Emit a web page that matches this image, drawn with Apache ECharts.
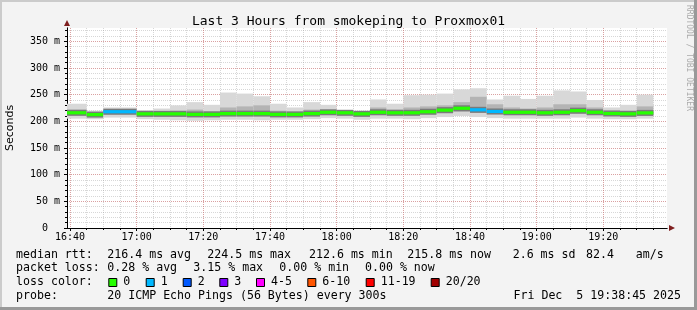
<!DOCTYPE html>
<html><head><meta charset="utf-8">
<script src="https://cdn.jsdelivr.net/npm/echarts@6/dist/echarts.min.js"></script>
<style>html,body{margin:0;padding:0;background:#f3f3f3}#c{width:697px;height:310px}</style>
</head><body><div id="c"></div>
<script>
// ---------------- data ----------------
const barStarts = ['16:35','16:40','16:45','16:50','16:55','17:00','17:05','17:10','17:15','17:20','17:25','17:30',
  '17:35','17:40','17:45','17:50','17:55','18:00','18:05','18:10','18:15','18:20','18:25','18:30',
  '18:35','18:40','18:45','18:50','18:55','19:00','19:05','19:10','19:15','19:20','19:25','19:30'];
const stepMinutes = 5;
const rttMax    = [233,233,220,226,226,221,224,230,236,231,254,252,247,233,226,236,231,219,220,241,233,249,250,252,260,262,241,248,242,248,258,256,240,226,231,250];
const rttHigh   = [222,222,216,221,221,217,219,220,222,219,226,228,230,220,218,222,221,218,218,226,222,226,228,230,236,246,232,226,224,226,232,232,226,220,220,228];
const rttMedian = [216,216,212.6,218,218,214,214,214,213,213,214.5,214.5,214.5,213,213,214.5,217,216,214,217,216,216,218,221,224.5,221.6,218.5,217,217,216,217,220,217,214.7,214,215.8];
const rttLow    = [211,211,209,213,213,210,210,209,209,209,210,210,210,209,209,210,212,211,210,212,211,211,213,215,218,216,213,212,212,211,212,214,212,210,210,211];
const rttMin    = [205,205,204,207,207,204,203,202,201,202,203,203,202,203,203,204,206,205,203,205,205,204,206,208,210,208,206,205,205,205,205,207,205,204,204,205];
const lossIndex = [0,0,0,1,1,0,0,0,0,0,0,0,0,0,0,0,0,0,0,0,0,0,0,0,0,1,1,0,0,0,0,0,0,0,0,0];
const lossColors = ['#26ff00','#00b8ff','#0059ff','#7e00ff','#ff00ff','#ff5500','#ff0000','#a10000'];
const lossLabels = ['0','1','2','3','4-5','6-10','11-19','20/20'];
const xTickLabels = ['16:40','17:00','17:20','17:40','18:00','18:20','18:40','19:00','19:20'];
const yTickValues = [0,50,100,150,200,250,300,350];
const axisStart = '16:39:06', axisEnd = '19:39:06';
const yMax = 375;
const titleText = 'Last 3 Hours from smokeping to Proxmox01';
const rttStats = ['median rtt:','216.4 ms avg','224.5 ms max','212.6 ms min','215.8 ms now','2.6 ms sd','82.4','am/s'];
const lossStats = ['packet loss:','0.28 % avg','3.15 % max','0.00 % min','0.00 % now'];
const probeText = ['probe:','20 ICMP Echo Pings (56 Bytes) every 300s','Fri Dec  5 19:38:45 2025'];

// ---------------- helpers ----------------
function toMin(s){const p=s.split(':').map(Number);return p[0]*60+p[1]+(p[2]||0)/60;}
function fmt(m){const h=Math.floor(m/60),mm=Math.round(m-h*60);return h+':'+(mm<10?'0':'')+mm;}
const xMin = toMin(axisStart), xMax = toMin(axisEnd);
const majorX = xTickLabels.map(toMin);
const minorX = []; for (let m = Math.ceil(xMin/5)*5; m <= xMax; m += 5) minorX.push(m);
const minorY = []; for (let v = 0; v < yMax; v += 10) minorY.push(v);

const data = barStarts.map((s,i)=>{const a=toMin(s);return [a,a+stepMinutes,rttMin[i],rttLow[i],rttMedian[i],rttHigh[i],rttMax[i],lossIndex[i]];});

function renderItem(params, api){
  const s=api.value(0), e=api.value(1);
  const xa=api.coord([s,0])[0], xb=api.coord([e,0])[0], w=xb-xa;
  const Y=v=>api.coord([s,v])[1];
  const band=(a,b,fill)=>({type:'rect',shape:{x:xa,y:Math.min(Y(a),Y(b)),width:w,height:Math.abs(Y(a)-Y(b))},style:{fill:fill}});
  const md=api.value(4);
  return {type:'group',children:[
    band(api.value(2),api.value(6),'#d8d8d8'),
    band(api.value(3),api.value(5),'#b4b4b4'),
    {type:'rect',shape:{x:xa,y:Y(md)-3,width:w,height:6},style:{fill:'#7a7a7a'}},
    {type:'rect',shape:{x:xa,y:Y(md)-1.6,width:w,height:3.2},style:{fill:lossColors[api.value(7)]}}
  ]};
}

const MONO='"DejaVu Sans Mono", monospace';
const legendFont='11.6px '+MONO;
const redGrid={color:'rgba(222,80,80,0.4)',type:[1,1],width:1};
const greyGrid={color:'rgba(140,140,140,0.35)',type:[1,1],width:1};

const graphics=[];
function txt(t,x,y,opts){graphics.push(Object.assign({type:'text',x:x,y:y,silent:true,style:{text:t,font:legendFont,fill:'#000',textAlign:'left',align:'left',textVerticalAlign:'middle',verticalAlign:'middle'}},opts||{}));}
// frame
graphics.push({type:'rect',shape:{x:0,y:0,width:697,height:2},style:{fill:'#cbcbcb'},silent:true});
graphics.push({type:'rect',shape:{x:0,y:0,width:2,height:310},style:{fill:'#cbcbcb'},silent:true});
graphics.push({type:'rect',shape:{x:0,y:307,width:697,height:3},style:{fill:'#999999'},silent:true});
graphics.push({type:'rect',shape:{x:694,y:0,width:3,height:310},style:{fill:'#999999'},silent:true});
// stats line 1
[16,107.3,207.3,309,407.3,512.7,586,635.7].forEach((x,i)=>txt(rttStats[i],x,254.5));
[16,107.3,193.3,279.3,365].forEach((x,i)=>txt(lossStats[i],x,268.3));
txt('loss color:',16,282);
[108.3,145.7,182.7,219.3,256,307.3,365.7,430.7].forEach((x,i)=>{
  graphics.push({type:'rect',silent:true,shape:{x:x+0.5,y:278.5,width:8,height:8},style:{fill:lossColors[i],stroke:'#000',lineWidth:1}});
  txt(lossLabels[i],x+15,282);
});
txt(probeText[0],16,296);
txt(probeText[1],107.3,296);
graphics.push({type:'text',x:681,y:296,silent:true,style:{text:probeText[2],font:legendFont,fill:'#000',textAlign:'right',align:'right',textVerticalAlign:'middle',verticalAlign:'middle'}});
// watermark
graphics.push({type:'text',x:689,y:5,rotation:-Math.PI/2,silent:true,style:{text:'RRDTOOL / TOBI OETIKER',font:'8px '+MONO,fill:'#aaaaaa',textAlign:'left',align:'left',textVerticalAlign:'middle',verticalAlign:'middle'}});

const chart=echarts.init(document.getElementById('c'),null,{renderer:'canvas'});
chart.setOption({
  animation:false,
  backgroundColor:'#f3f3f3',
  title:{text:titleText,left:'center',top:10,textStyle:{fontFamily:MONO,fontSize:13,fontWeight:'normal',color:'#000'}},
  grid:{left:67,right:30,top:28,bottom:82,show:true,backgroundColor:'#ffffff',borderWidth:0,containLabel:false,outerBoundsMode:'none'},
  xAxis:[
    {type:'value',min:xMin,max:xMax,position:'bottom',z:1,
     axisLine:{show:true,onZero:false,lineStyle:{color:'#000',width:1}},
     axisTick:{show:true,customValues:majorX,length:3,lineStyle:{color:'#000'}},
     axisLabel:{customValues:majorX,formatter:v=>fmt(v),fontFamily:MONO,fontSize:10,color:'#000',margin:4},
     splitLine:{show:true,lineStyle:redGrid}},
    {type:'value',min:xMin,max:xMax,position:'bottom',z:0,
     axisLine:{show:true,onZero:false,symbol:['none','triangle'],symbolSize:[6,6],symbolOffset:[0,5],lineStyle:{color:'#7f1f1f',width:1}},
     axisTick:{show:true,customValues:minorX,length:2,lineStyle:{color:'#000'}},
     axisLabel:{show:false},
     splitLine:{show:true,lineStyle:greyGrid}}
  ],
  yAxis:[
    {type:'value',min:0,max:yMax,position:'left',z:1,
     name:'Seconds',nameLocation:'middle',nameGap:51,nameTextStyle:{fontFamily:'"DejaVu Sans", sans-serif',fontSize:11,color:'#000'},
     axisLine:{show:true,onZero:false,lineStyle:{color:'#000',width:1}},
     axisTick:{show:true,customValues:yTickValues,length:3,lineStyle:{color:'#000'}},
     axisLabel:{customValues:yTickValues,formatter:v=>v===0?'0  ':v+' m',fontFamily:MONO,fontSize:10,color:'#000',margin:7},
     splitLine:{show:true,lineStyle:redGrid}},
    {type:'value',min:0,max:yMax,position:'left',z:0,
     axisLine:{show:true,onZero:false,symbol:['none','triangle'],symbolSize:[6,6],symbolOffset:[0,5],lineStyle:{color:'#7f1f1f',width:1}},
     axisTick:{show:true,customValues:minorY,length:2,lineStyle:{color:'#000'}},
     axisLabel:{show:false},
     splitLine:{show:true,lineStyle:greyGrid}}
  ],
  series:[{type:'custom',xAxisIndex:0,yAxisIndex:0,clip:true,renderItem:renderItem,
    encode:{x:[0,1],y:[2,3,4,5,6]},data:data,z:3}],
  graphic:graphics
});
</script></body></html>
